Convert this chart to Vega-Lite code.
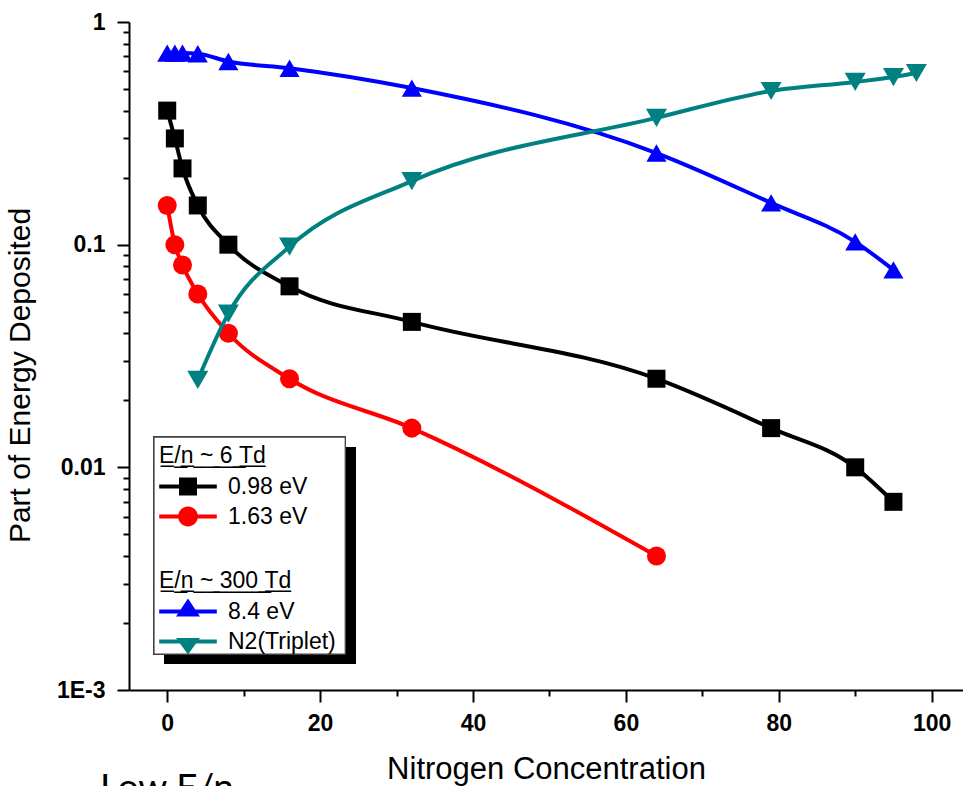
{
  "$schema": "https://vega.github.io/schema/vega-lite/v6.json",
  "width": 834,
  "height": 668,
  "autosize": {"type": "none"},
  "padding": {"left": 129, "top": 22, "right": 0, "bottom": 96},
  "background": "white",
  "title": {
    "text": "Low E/n",
    "orient": "bottom",
    "anchor": "start",
    "frame": "group",
    "dx": -29,
    "offset": -13,
    "font": "Lato",
    "fontSize": 37,
    "fontWeight": "normal",
    "color": "black",
    "baseline": "top"
  },
  "config": {
    "view": {"stroke": null},
    "font": "Liberation Sans",
    "axis": {
      "grid": false,
      "domainColor": "black",
      "domainWidth": 2,
      "tickColor": "black",
      "tickWidth": 2,
      "labelFont": "Liberation Sans",
      "labelFontSize": 23,
      "labelFontWeight": "bold",
      "labelColor": "black",
      "titleFont": "Liberation Sans",
      "titleFontSize": 30,
      "titleFontWeight": "normal",
      "titleColor": "black",
      "labelOverlap": false,
      "labelFlush": false
    }
  },
  "data": {
    "values": [
      {"conc": 0, "value": 0.40, "series": "0.98 eV", "group": "low"},
      {"conc": 1, "value": 0.30, "series": "0.98 eV", "group": "low"},
      {"conc": 2, "value": 0.22, "series": "0.98 eV", "group": "low"},
      {"conc": 4, "value": 0.15, "series": "0.98 eV", "group": "low"},
      {"conc": 8, "value": 0.10, "series": "0.98 eV", "group": "low"},
      {"conc": 16, "value": 0.065, "series": "0.98 eV", "group": "low"},
      {"conc": 32, "value": 0.045, "series": "0.98 eV", "group": "low"},
      {"conc": 64, "value": 0.025, "series": "0.98 eV", "group": "low"},
      {"conc": 79, "value": 0.015, "series": "0.98 eV", "group": "low"},
      {"conc": 90, "value": 0.010, "series": "0.98 eV", "group": "low"},
      {"conc": 95, "value": 0.007, "series": "0.98 eV", "group": "low"},
      {"conc": 0, "value": 0.15, "series": "1.63 eV", "group": "low"},
      {"conc": 1, "value": 0.10, "series": "1.63 eV", "group": "low"},
      {"conc": 2, "value": 0.081, "series": "1.63 eV", "group": "low"},
      {"conc": 4, "value": 0.060, "series": "1.63 eV", "group": "low"},
      {"conc": 8, "value": 0.040, "series": "1.63 eV", "group": "low"},
      {"conc": 16, "value": 0.025, "series": "1.63 eV", "group": "low"},
      {"conc": 32, "value": 0.015, "series": "1.63 eV", "group": "low"},
      {"conc": 64, "value": 0.004, "series": "1.63 eV", "group": "low"},
      {"conc": 0, "value": 0.725, "series": "8.4 eV", "group": "high"},
      {"conc": 1, "value": 0.725, "series": "8.4 eV", "group": "high"},
      {"conc": 2, "value": 0.725, "series": "8.4 eV", "group": "high"},
      {"conc": 4, "value": 0.72, "series": "8.4 eV", "group": "high"},
      {"conc": 8, "value": 0.665, "series": "8.4 eV", "group": "high"},
      {"conc": 16, "value": 0.62, "series": "8.4 eV", "group": "high"},
      {"conc": 32, "value": 0.505, "series": "8.4 eV", "group": "high"},
      {"conc": 64, "value": 0.258, "series": "8.4 eV", "group": "high"},
      {"conc": 79, "value": 0.154, "series": "8.4 eV", "group": "high"},
      {"conc": 90, "value": 0.103, "series": "8.4 eV", "group": "high"},
      {"conc": 95, "value": 0.077, "series": "8.4 eV", "group": "high"},
      {"conc": 4, "value": 0.0247, "series": "N2(Triplet)", "group": "high"},
      {"conc": 8, "value": 0.049, "series": "N2(Triplet)", "group": "high"},
      {"conc": 16, "value": 0.098, "series": "N2(Triplet)", "group": "high"},
      {"conc": 32, "value": 0.193, "series": "N2(Triplet)", "group": "high"},
      {"conc": 64, "value": 0.371, "series": "N2(Triplet)", "group": "high"},
      {"conc": 79, "value": 0.49, "series": "N2(Triplet)", "group": "high"},
      {"conc": 90, "value": 0.538, "series": "N2(Triplet)", "group": "high"},
      {"conc": 95, "value": 0.566, "series": "N2(Triplet)", "group": "high"},
      {"conc": 98, "value": 0.59, "series": "N2(Triplet)", "group": "high"}
    ]
  },
  "layer": [
    {
      "mark": {"type": "rect", "fill": "black"},
      "encoding": {
        "x": {"datum": -0.42, "type": "quantitative", "scale": {"domain": [-5, 104.1]}, "title": "Nitrogen Concentration"},
        "x2": {"datum": 24.6},
        "y": {"datum": 0.01234, "type": "quantitative", "scale": {"type": "log", "domain": [0.001, 1]}, "title": "Part of Energy Deposited"},
        "y2": {"datum": 0.001308}
      }
    },
    {
      "mark": {"type": "rect", "fill": "white", "stroke": "#404040", "strokeWidth": 1.2},
      "encoding": {
        "x": {"datum": -1.73, "type": "quantitative", "scale": {"domain": [-5, 104.1]}, "title": "Nitrogen Concentration"},
        "x2": {"datum": 23.29},
        "y": {"datum": 0.01368, "type": "quantitative", "scale": {"type": "log", "domain": [0.001, 1]}, "title": "Part of Energy Deposited"},
        "y2": {"datum": 0.001451}
      }
    },
    {
      "transform": [{"filter": "datum.group === 'low'"}],
      "encoding": {
        "x": {
          "field": "conc", "type": "quantitative",
          "scale": {"domain": [-5, 104.1]},
          "title": "Nitrogen Concentration",
          "axis": {
            "values": [0, 10, 20, 30, 40, 50, 60, 70, 80, 90, 100],
            "labelExpr": "datum.value % 20 === 0 ? datum.label : ''",
            "tickSize": {"condition": {"test": "datum.value % 20 === 0", "value": 12}, "value": 6},
            "labelPadding": 10,
            "titleY": 64,
            "titleBaseline": "top",
            "titleFontSize": 31
          }
        },
        "y": {
          "field": "value", "type": "quantitative",
          "scale": {"type": "log", "domain": [0.001, 1]},
          "title": "Part of Energy Deposited",
          "axis": {
            "values": [0.001, 0.002, 0.003, 0.004, 0.005, 0.006, 0.007, 0.008, 0.009, 0.01, 0.02, 0.03, 0.04, 0.05, 0.06, 0.07, 0.08, 0.09, 0.1, 0.2, 0.3, 0.4, 0.5, 0.6, 0.7, 0.8, 0.9, 1],
            "labelExpr": "datum.value === 1 ? '1' : datum.value === 0.1 ? '0.1' : datum.value === 0.01 ? '0.01' : datum.value === 0.001 ? '1E-3' : ''",
            "tickSize": {"condition": {"test": "indexof([0.001, 0.01, 0.1, 1], datum.value) >= 0", "value": 12}, "value": 6},
            "labelPadding": 12,
            "titleAngle": 270,
            "titleBaseline": "bottom",
            "titleAlign": "center",
            "titleX": -94,
            "titleY": 353
          }
        },
        "color": {
          "field": "series", "type": "nominal",
          "scale": {"domain": ["0.98 eV", "1.63 eV"], "range": ["#000000", "#ff0000"]},
          "legend": {
            "title": "E̲/̲n̲ ̲~̲ ̲6̲ ̲T̲d̲",
            "orient": "none",
            "legendX": 30,
            "legendY": 423,
            "padding": 0,
            "titleFont": "Liberation Sans",
            "titleFontSize": 23,
            "titleFontWeight": "normal",
            "titleColor": "black",
            "titlePadding": 7,
            "titleLimit": 400,
            "labelFont": "Liberation Sans",
            "labelFontSize": 23,
            "labelColor": "black",
            "labelOffset": 46,
            "rowPadding": 6,
            "symbolSize": 324,
            "encode": {
              "symbols": {
                "update": {
                  "shape": {"signal": "datum.value === '0.98 eV' ? 'M-3.2,-0.22H3.2V0.22H-3.2ZM-1,-1H1V1H-1Z' : 'M-3.2,-0.22H3.2V0.22H-3.2ZM-1.1,0A1.1,1.1 0 1,1 1.1,0A1.1,1.1 0 1,1 -1.1,0Z'"},
                  "fill": {"signal": "datum.value === '0.98 eV' ? '#000000' : '#ff0000'"},
                  "fillOpacity": {"value": 1},
                  "opacity": {"value": 1},
                  "strokeWidth": {"value": 0},
                  "x": {"value": 29}
                }
              }
            }
          }
        }
      },
      "layer": [
        {"mark": {"type": "line", "interpolate": "monotone", "strokeWidth": 4}},
        {
          "mark": {"type": "point", "filled": true, "opacity": 1, "strokeWidth": 0},
          "encoding": {
            "shape": {"field": "series", "type": "nominal", "legend": null,
              "scale": {"domain": ["0.98 eV", "1.63 eV", "8.4 eV", "N2(Triplet)"], "range": ["square", "circle", "triangle-up", "triangle-down"]}},
            "size": {"field": "series", "type": "ordinal", "legend": null,
              "scale": {"domain": ["0.98 eV", "1.63 eV", "8.4 eV", "N2(Triplet)"], "range": [324, 441, 650, 620]}}
          }
        }
      ]
    },
    {
      "transform": [{"filter": "datum.group === 'high'"}],
      "encoding": {
        "x": {"field": "conc", "type": "quantitative", "scale": {"domain": [-5, 104.1]}, "title": "Nitrogen Concentration"},
        "y": {"field": "value", "type": "quantitative", "scale": {"type": "log", "domain": [0.001, 1]}, "title": "Part of Energy Deposited"},
        "color": {
          "field": "series", "type": "nominal",
          "scale": {"domain": ["8.4 eV", "N2(Triplet)"], "range": ["#0000ff", "#008080"]},
          "legend": {
            "title": "E̲/̲n̲ ̲~̲ ̲3̲0̲0̲ ̲T̲d̲",
            "orient": "none",
            "legendX": 30,
            "legendY": 548,
            "padding": 0,
            "titleFont": "Liberation Sans",
            "titleFontSize": 23,
            "titleFontWeight": "normal",
            "titleColor": "black",
            "titlePadding": 7,
            "titleLimit": 400,
            "labelFont": "Liberation Sans",
            "labelFontSize": 23,
            "labelColor": "black",
            "labelOffset": 46,
            "rowPadding": 6,
            "symbolSize": 324,
            "encode": {
              "symbols": {
                "update": {
                  "shape": {"signal": "datum.value === '8.4 eV' ? 'M-3.2,-0.22H3.2V0.22H-3.2ZM0,-1.44L1.33,0.56L-1.33,0.56Z' : 'M-3.2,-0.22H3.2V0.22H-3.2ZM0,1.45L-1.33,-0.4L1.33,-0.4Z'"},
                  "fill": {"signal": "datum.value === '8.4 eV' ? '#0000ff' : '#008080'"},
                  "fillOpacity": {"value": 1},
                  "opacity": {"value": 1},
                  "strokeWidth": {"value": 0},
                  "x": {"value": 29}
                }
              }
            }
          }
        }
      },
      "layer": [
        {"mark": {"type": "line", "interpolate": "monotone", "strokeWidth": 4}},
        {
          "mark": {"type": "point", "filled": true, "opacity": 1, "strokeWidth": 0},
          "encoding": {
            "shape": {"field": "series", "type": "nominal", "legend": null,
              "scale": {"domain": ["0.98 eV", "1.63 eV", "8.4 eV", "N2(Triplet)"], "range": ["square", "circle", "triangle-up", "triangle-down"]}},
            "size": {"field": "series", "type": "ordinal", "legend": null,
              "scale": {"domain": ["0.98 eV", "1.63 eV", "8.4 eV", "N2(Triplet)"], "range": [324, 441, 650, 620]}}
          }
        }
      ]
    }
  ],
  "resolve": {"scale": {"color": "independent"}}
}
